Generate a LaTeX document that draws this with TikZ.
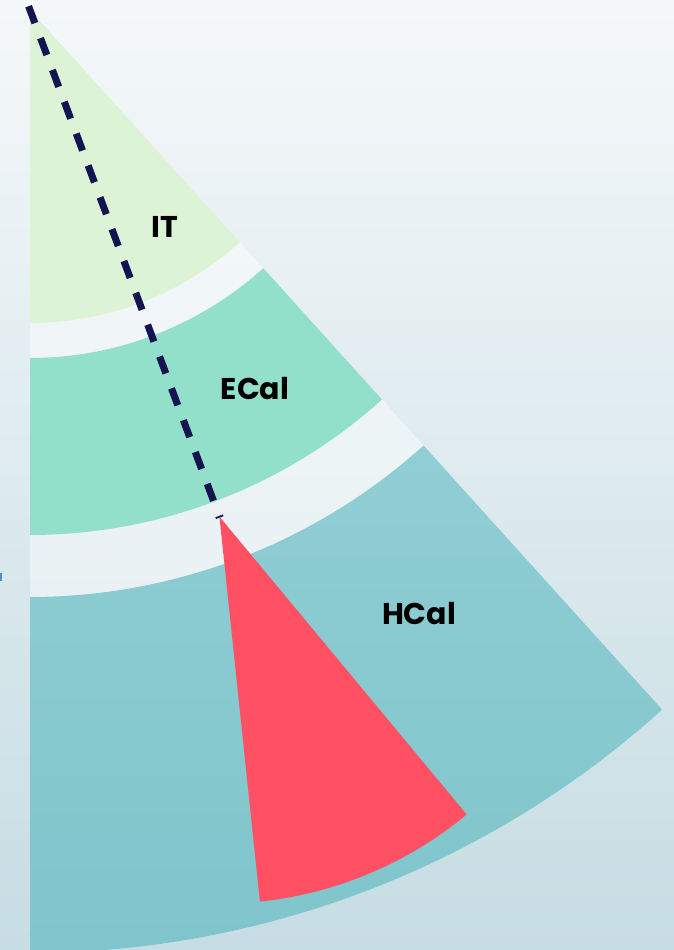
\documentclass[tikz,border=0pt]{standalone}
\usepackage{fontspec}
\setmainfont{Poppins}
\usetikzlibrary{calc}

\definecolor{bgtop}{HTML}{F5F8FA}
\definecolor{bgbot}{HTML}{C6DDE3}
\definecolor{itcol}{HTML}{DDF3D5}
\definecolor{ecalcol}{HTML}{93E0CA}
\definecolor{hcaltop}{HTML}{8FCED4}
\definecolor{hcalbot}{HTML}{7FC5CB}
\definecolor{jetred}{HTML}{FF5064}
\definecolor{navy}{HTML}{141450}
\definecolor{tickblue}{HTML}{4A90D9}

% annular sector of the detector fan: #1 style, #2 inner radius, #3 outer radius
\newcommand\fanband[3]{%
  \path[#1] ($(A)+(\aL:#2)$) arc[start angle=\aL, end angle=\aR, radius=#2]
    -- ($(A)+(\aR:#3)$) arc[start angle=\aR, end angle=\aL, radius=#3] -- cycle;}

\tikzset{
  layerlabel/.style={anchor=base, inner sep=0pt, font=\fontsize{30}{30}\selectfont\bfseries, text=black},
}

\begin{document}
\begin{tikzpicture}[x=1pt,y=1pt]
\useasboundingbox (0,0) rectangle (674,950);
\shade[top color=bgtop, bottom color=bgbot] (0,0) rectangle (674,950);
\fill[tickblue] (0,369) rectangle (1.5,377);

% interaction point and fan edges
\coordinate (A) at (30,940);
\def\aL{-90}
\def\aR{-47.9}

% pale fan behind the layers (shows in the gaps)
\fill[white, opacity=0.45] (A) -- ($(A)+(\aL:943)$)
  arc[start angle=\aL, end angle=\aR, radius=943] -- cycle;

% inner tracker
\fill[itcol] (A) -- ($(A)+(\aL:313)$)
  arc[start angle=\aL, end angle=\aR, radius=313] -- cycle;
% calorimeters
\fanband{fill=ecalcol}{348}{525}
\fanband{top color=hcaltop, bottom color=hcalbot}{587}{943}

% particle track and shower
\coordinate (trackStart) at ($(A)+(-69.5:-4)$);
\coordinate (trackEnd) at ($(A)+(-69.5:524)$);
\coordinate (C) at ($(A)+(-69.5:541)$);
\draw[navy, line width=7pt, dash pattern=on 18pt off 16pt] (trackStart) -- (trackEnd);
\fill[jetred] (C) -- ($(C)+(-84:387)$)
  arc[start angle=-84, end angle=-50.3, radius=387] -- cycle;
\draw[navy, line width=1.8pt] ($(C)+(20.5:4)$) -- ($(C)+(200.5:4)$);

% layer names
\node[layerlabel] (it) at (165,712) {IT};
\node[layerlabel] (ecal) at (255,550) {ECal};
\node[layerlabel] (hcal) at (419,325) {HCal};
\end{tikzpicture}
\end{document}
